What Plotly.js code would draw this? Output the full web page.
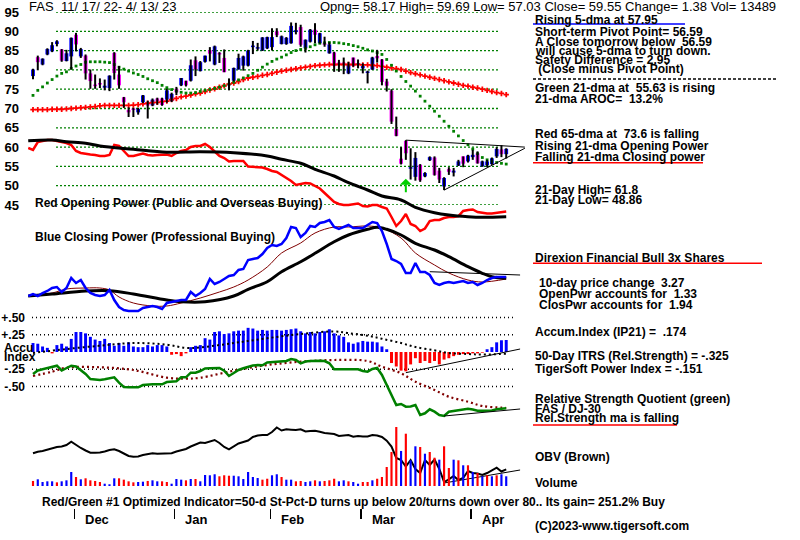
<!DOCTYPE html>
<html><head><meta charset="utf-8">
<script src="https://cdn.plot.ly/plotly-3.0.1.min.js"></script>
<style>html,body{margin:0;padding:0;background:#fff;}#chart{width:800px;height:540px;}</style>
</head><body><div id="chart"></div>
<script>
// ---------------- DATA ----------------
const ticker = 'FAS';
const dateRange = '11/ 17/ 22- 4/ 13/ 23';
const openP = [78.4,83.3,81.4,84.0,84.8,86.7,85.3,82.3,83.5,89.1,
 83.5,83.7,79.1,76.2,76.6,75.4,75.3,84.4,78.8,72.9,
 69.6,70.0,69.0,71.6,71.6,70.8,72.6,72.6,72.3,71.9,
 75.1,76.0,77.2,77.2,82.5,79.7,82.1,85.1,81.4,84.4,
 83.1,76.0,77.2,80.1,81.1,81.1,85.9,85.5,85.0,85.6,
 85.9,90.0,86.7,86.7,86.9,89.8,91.1,85.6,87.3,90.4,
 86.9,86.9,84.3,84.5,81.9,81.9,79.1,83.2,81.3,80.4,
 79.2,80.1,83.6,82.7,77.0,74.6,64.7,57.0,61.6,54.4,
 52.3,55.4,52.4,56.6,57.3,53.9,49.8,54.3,53.4,55.2,
 57.6,56.3,57.4,58.4,55.0,55.3,55.6,57.6,59.4,58.17];
const highP = [80.3,83.7,83.0,85.6,87.2,87.7,85.4,85.2,88.4,89.6,
 85.7,84.0,80.1,78.8,77.8,77.5,78.6,84.6,81.0,73.0,
 70.3,70.2,70.2,73.5,72.0,72.6,72.8,72.8,75.1,74.1,
 75.6,77.9,77.2,82.7,83.5,82.3,83.7,85.9,86.3,84.6,
 85.3,77.8,80.6,84.2,83.7,85.2,87.5,87.0,88.5,88.6,
 90.8,90.8,88.9,88.5,92.3,92.2,91.7,87.9,90.6,92.1,
 89.6,88.6,87.2,84.7,82.6,83.2,82.1,83.2,82.7,81.7,
 79.8,83.4,85.2,82.8,77.7,75.0,67.9,60.0,61.8,59.7,
 58.7,55.6,53.5,57.6,57.6,54.6,52.2,54.8,54.6,56.7,
 57.6,58.0,59.3,58.9,56.5,56.7,57.3,60.0,60.5,59.69];
const lowP = [77.6,79.9,81.2,83.8,84.6,86.1,82.1,82.2,80.1,84.8,
 83.1,77.5,75.1,75.1,75.3,74.7,74.5,77.5,75.1,70.2,
 67.8,67.8,68.4,71.4,67.4,70.6,71.0,70.7,71.5,71.7,
 73.5,75.8,75.7,77.0,78.4,79.6,81.9,82.2,81.2,81.8,
 79.4,74.7,77.0,80.1,79.8,80.9,84.1,85.0,84.9,85.4,
 85.0,88.5,86.6,86.5,86.8,89.2,86.0,84.5,87.1,86.9,
 86.8,86.0,84.2,79.5,79.5,78.9,78.9,80.8,80.4,79.1,
 76.5,80.0,81.9,76.0,74.4,66.0,62.8,55.5,56.7,51.6,
 51.3,51.0,52.2,56.4,52.6,50.7,48.86,52.8,52.4,55.1,
 54.8,56.0,56.7,55.7,54.9,54.8,55.4,57.2,57.4,57.03];
const closeP = [80.1,82.0,82.9,85.4,86.4,87.4,82.4,84.3,88.3,86.6,
 85.4,79.1,77.1,75.8,76.2,75.9,78.5,79.2,76.0,71.6,
 69.0,69.6,69.9,73.4,70.8,72.3,71.9,70.9,74.7,73.8,
 74.2,77.9,76.0,81.2,80.1,82.0,83.7,84.2,86.1,84.0,
 79.4,76.4,80.5,83.1,83.5,85.0,86.3,85.8,88.4,88.5,
 88.5,89.0,88.7,88.3,91.4,90.3,86.5,87.8,90.4,89.1,
 89.5,86.5,86.6,81.0,81.3,81.3,81.3,81.0,81.6,81.0,
 79.6,83.2,83.0,76.9,75.9,66.6,62.9,55.7,58.4,54.8,
 57.2,51.4,53.3,57.4,52.8,51.6,52.0,53.6,53.9,56.3,
 55.7,57.8,58.0,55.8,56.3,56.3,57.1,59.5,58.17,59.55];
// 21-dma (green) and 65-dma (red)
const ma21 = [73.4,74.7,75.6,76.6,77.5,78.4,79.1,79.5,80.4,81.0,
 81.4,82.0,82.1,82.1,82.1,82.0,81.9,81.4,80.7,80.2,
 79.7,79.2,78.8,78.3,77.7,77.2,76.7,76.0,75.4,74.9,
 74.5,74.2,74.0,74.0,74.1,74.4,74.7,74.9,75.2,75.5,
 75.9,76.3,76.8,77.4,77.9,78.5,79.1,79.9,80.7,81.5,
 82.2,82.8,83.3,83.9,84.5,85.0,85.3,85.6,86.0,86.5,
 86.9,87.0,87.1,87.1,87.0,86.8,86.6,86.3,86.0,85.6,
 85.2,84.9,84.5,84.0,82.7,81.2,79.7,78.3,77.0,75.8,
 74.5,73.2,71.9,70.6,69.3,68.0,66.7,65.4,64.1,62.9,
 61.7,60.6,59.5,58.3,57.3,56.7,56.3,56.0,55.8,55.6];
const ma65 = [69.7,69.7,69.7,69.7,69.8,69.8,69.8,69.9,70.0,70.1,
 70.2,70.3,70.4,70.5,70.7,70.8,70.8,70.8,70.8,70.8,
 70.8,70.9,71.0,71.2,71.4,71.5,71.6,71.8,71.9,72.3,
 72.6,73.0,73.2,73.5,73.8,74.0,74.4,74.8,75.1,75.5,
 75.9,76.3,76.6,77.0,77.5,77.9,78.1,78.3,78.6,78.8,
 79.1,79.4,79.7,79.9,80.1,80.3,80.5,80.7,80.9,81.1,
 81.2,81.3,81.4,81.4,81.4,81.4,81.4,81.4,81.4,81.3,
 81.3,81.2,81.1,80.9,80.7,80.5,80.3,80.1,79.7,79.3,
 79.0,78.7,78.4,78.1,77.8,77.5,77.2,76.9,76.6,76.3,
 76.0,75.8,75.5,75.3,75.0,74.7,74.4,74.1,73.9,73.6];
// Opening Power (red) from day -1, and its moving average (black)
const openPower = [87,85,93,94,95,95,94,93,92,90,
 84,82,81,80.5,80,79,79,80,90,89,
 84,79,79,80,81.5,80,79.5,80,80.5,80.5,
 79,82,84,85,88,89,89,91,88,83,
 79,77,73.5,74,74,74,68.5,68,68,67.5,
 66,64,63,60,57,54,50,51,52,51.5,
 49,46.5,42,37,33,31,30,30,31,31.5,
 29,28.5,30,30,28,26.5,18,9,14,21,
 11,9,4,6.5,14,15,15,17,18,18,
 19,24,25,25.5,23,22,21.5,21.5,22,23,23.5];
const opMA_days = [-1,4,7,11,14,21,28,35,42,49,52,56,59,63,66,70,73,77,80,84,87,91,94,99];
const opMA = [94.3,95,93.3,91.7,89,85.7,82.7,83.3,82.3,79,75.7,71.7,65.7,59,52.3,45,39,35,27.7,22.3,20,18.3,17.7,18.3];
// Closing Power (blue) from day -1, its fast MA (brown) and slow MA (black)
const closePower = [14,16,14,17,19,22,23,18,22,32,
 27,30,22,17,15,14,15,20,10,3,
 0,-1,-1,-1,2,3,4,3,1,7,
 8,9,10,10,18,14,17,21,31,26,
 28,31,34,35,40,41,50,51,52,56,
 62,65,64,66,72,83,82,73,77,84,
 83,87,88,90,83,81,83,85,82,82,
 82,85,88,87,79,66,51,49,46,37,
 37,47,38,38,35,27,25,27,28,27,
 28,29,27,28,25,27,30,32,33,33,33];
const cpFast_days = [-1,4,7,11,14,16,18,21,25,28,31,35,39,42,45,49,52,56,59,63,66,70,73,77,80,84,87,91,94,99];
const cpFast = [14,17,21,22,22,20,13,7,4,4,7,12,18,23,30,43,57,67,77,83,83,84,82,72,57,45,37,30,28,31];
const cpSlow_days = [-1,4,11,16,21,28,31,36,42,45,49,52,56,59,63,66,70,72,74,77,80,84,87,91,94,96,99];
const cpSlow = [14,16,19,19.3,16,10,8.3,8.3,14,20.7,28.3,38.3,48.3,56.7,68.3,75,80.7,82.7,80.7,75,66.7,60,53.3,43.3,36.7,33.3,31.7];
// Accumulation Index (IP21)
const accum = [0.13,0.12,0.08,0.06,-0.02,0.10,0.12,0.08,0.19,0.29,
 0.29,0.27,0.22,0.18,0.16,0.19,0.13,0.09,0.13,0.09,
 0.14,0.08,0.07,0.07,0.10,0.08,0.10,0.10,0.08,-0.04,
 -0.03,-0.06,-0.02,0.07,0.09,0.10,0.20,0.18,0.29,0.30,
 0.26,0.27,0.30,0.31,0.31,0.35,0.34,0.31,0.32,0.31,
 0.32,0.32,0.31,0.32,0.33,0.34,0.30,0.27,0.29,0.27,
 0.29,0.30,0.33,0.27,0.24,0.22,0.14,0.12,0.14,0.16,
 0.15,0.15,0.14,0.08,0.04,-0.16,-0.21,-0.27,-0.28,-0.18,
 -0.09,-0.16,-0.13,-0.16,-0.13,-0.18,-0.11,-0.09,-0.06,-0.04,
 -0.03,-0.03,-0.02,-0.02,-0.01,0.04,0.07,0.14,0.17,0.174];
const accumMA_days = [0,7,14,21,28,32,35,42,49,56,63,66,70,73,77,80,84,87,91,94,99];
const accumMA = [-0.014,0.043,0.091,0.13,0.106,0.058,0.067,0.13,0.2,0.26,0.298,0.274,0.236,0.192,0.13,0.072,0.024,-0.014,-0.029,-0.038,-0.024];
// Relative strength quotient FAS / DJ-30 (green) and its MA
const rsq = [51,54.5,55.7,57,58.5,59.3,54.5,57,59.3,58.5,
 55,51,46,45.5,45,45.7,46.5,47.7,42.3,38,
 37.7,37.7,37.7,40,40.5,40.7,40.7,40.7,43,43.5,
 43.7,47.7,47.7,52.3,52.3,54,56.5,56.7,57,57,
 54.3,49,52,55,56.7,58.3,59.5,60,59.7,62.5,
 63,63.3,63.5,64,66,65,61.7,63.5,64,64.3,
 64.2,64,61.7,55.7,55.7,55.7,55.7,55.7,55.7,54,
 53.3,56,57,50,40,31,20,21,18.3,18.5,
 20,10,11.7,15.7,13.3,10,9,13.3,14,15,
 15.5,16.3,15.5,14.3,14.3,14.3,14.5,15.7,16.2,16.7];
const rsqMA_days = [0,4,7,14,21,28,32,35,42,49,56,63,70,73,77,80,84,87,91,94,98,99];
const rsqMA = [49,53.3,57.3,57.7,55,47.3,46.3,47.3,54.3,60,63.3,65,64,58.3,51.7,43.3,35,28.3,23.3,19,17.3,17];
// On-balance volume
const obv = [36.7,38.3,39,40.5,42,43,43.5,45,48.3,45,
 42,39.5,37.3,37.3,37.5,38.5,40,40.7,39,36.5,
 34,33.3,33.5,35,36,36.7,36.3,36.5,36.7,36.7,
 38.5,39.5,41,43.5,45.5,47.5,47,48.5,50,47,
 43,40.7,44,46.5,48,49.5,53,54.5,55,55,
 58,62.5,59.5,60.7,60.3,60,60.7,58.5,59,59.3,
 58.3,57,56.5,56,54,54.5,55,53.3,54,53.5,
 53.5,55,54.5,53,49.3,43.5,32,30,23.5,30,
 21,17,30,25,30.5,21,8,10.7,14,10,
 12,19,17,16.5,15,17,19.5,22.3,18.5,20.7];
// Volume (thousands) and up/down flag (1 = blue, 0 = red)
const volume = [7.0,9.3,5.6,6.5,6.5,5.1,6.5,7.9,19.5,12.5,
 9.3,10.7,7.9,7.0,5.6,3.2,2.4,10.7,10.7,8.8,
 6.5,5.1,5.6,6.0,7.0,7.9,6.5,6.5,5.6,3.2,
 9.7,8.8,7.9,9.7,9.7,6.5,15.3,14.9,16.3,13.5,
 14.9,14.3,14.3,13.5,9.7,19.5,12.5,11.1,8.8,10.1,
 14.9,16.3,12.5,8.8,8.8,6.5,7.0,5.6,6.5,7.9,
 6.5,7.0,7.9,10.1,6.5,7.9,6.5,5.6,3.2,5.6,
 5.6,7.9,10.1,12.5,26.4,47.3,82.0,48.7,72.7,35.7,
 55.2,54.2,44.9,47.3,39.3,36.6,55.2,25.0,36.6,35.7,
 28.8,28.8,19.5,18.1,13.5,14.9,13.5,14.9,16.3,13.489];
const volUp = [0,1,1,1,1,0,1,1,1,0, 1,0,0,0,0,1,1,1,0,0, 0,0,1,1,0,1,1,0,0,1,
 1,1,0,1,0,1,1,1,1,0, 0,0,1,1,1,1,1,1,0,0, 1,1,0,1,1,0,0,1,1,0,
 1,0,0,0,1,1,0,1,1,0, 0,1,0,0,0,0,0,1,0,1, 1,0,1,0,0,1,0,0,1,0,
 1,0,1,0,1,0,1,0,1,1];
// Trend lines drawn by the program (day, value)
const priceTopLine = {d:[78,102.9], v:[61.8,60.0]};
const priceLowLine = {d:[86,102.9], v:[48.86,59.7]};
const cpLine = {d:[83,101.9], v:[38.3,35]};
const accumLine = {d:[78,101.9], v:[-0.30,0.043]};
const rsLine = {d:[86,101.9], v:[9,16]};
const obvLine = {d:[86,101.9], v:[7,20]};
const buySignalDays = [78];
// Axis ticks / labels
const monthStarts = [9,30,50,69,92];
const monthLabels = ['Dec','Jan','Feb','Mar','Apr'];
const priceTicks = [45,50,55,60,65,70,75,80,85,90,95];
const accumTicks = [0.5,0.25,-0.25,-0.5];
const accumTickText = ['+.50','+.25','-.25','-.50'];

// ---------------- LAYOUT HELPERS ----------------
const W=800, H=540, L=28, R=275, T=0, B=32;
const PW=W-L-R, PH=H-T-B;
const px = x => (x-L)/PW;
const py = y => (T+PH-y)/PH;
const DAYPX=4.78, DAY0=33;
const xr = [(L-DAY0)/DAYPX, (L+PW-DAY0)/DAYPX];
const FONT = 'Liberation Sans, Arial, sans-serif';

const days = closeP.map((_,i)=>i);
const indDays = openPower.map((_,i)=>i-1);

const traces = [];
// Price panel
traces.push({type:'scatter',mode:'markers',x:days,y:ma65,xaxis:'x',yaxis:'y',
  marker:{symbol:'cross',size:4.5,color:'#ff0000',line:{width:0}}});
traces.push({type:'scatter',mode:'markers',x:days,y:ma21,xaxis:'x',yaxis:'y',
  marker:{symbol:'square',size:2.8,color:'#008000',line:{width:0}}});
const wx=[], wy=[];
days.forEach(i=>{wx.push(i,i,null); wy.push(lowP[i],highP[i],null);});
traces.push({type:'scatter',mode:'lines',x:wx,y:wy,xaxis:'x',yaxis:'y',line:{color:'#000',width:2}});
traces.push({type:'bar',x:days,xaxis:'x',yaxis:'y',
  base:days.map(i=>Math.min(openP[i],closeP[i])),
  y:days.map(i=>Math.max(Math.abs(closeP[i]-openP[i]),0.4)),
  width:0.8,marker:{color:days.map(i=>closeP[i]>=openP[i]?'#0000ff':'#ff00ff'),line:{width:0}}});
[priceTopLine,priceLowLine].forEach(t=>traces.push({type:'scatter',mode:'lines',x:t.d,y:t.v,xaxis:'x',yaxis:'y',line:{color:'#000',width:1}}));

// Opening power
traces.push({type:'scatter',mode:'lines',x:indDays,y:openPower,xaxis:'x',yaxis:'y2',line:{color:'#ff0000',width:2.5}});
traces.push({type:'scatter',mode:'lines',x:opMA_days,y:opMA,xaxis:'x',yaxis:'y2',line:{color:'#000',width:3,shape:'spline'}});

// Closing power
traces.push({type:'scatter',mode:'lines',x:cpFast_days,y:cpFast,xaxis:'x',yaxis:'y3',line:{color:'#800000',width:1,shape:'spline'}});
traces.push({type:'scatter',mode:'lines',x:cpSlow_days,y:cpSlow,xaxis:'x',yaxis:'y3',line:{color:'#000',width:3,shape:'spline'}});
traces.push({type:'scatter',mode:'lines',x:indDays,y:closePower,xaxis:'x',yaxis:'y3',line:{color:'#0000ff',width:2.5}});
traces.push({type:'scatter',mode:'lines',x:cpLine.d,y:cpLine.v,xaxis:'x',yaxis:'y3',line:{color:'#000',width:1}});

// Accumulation index
traces.push({type:'bar',x:days,y:accum,xaxis:'x',yaxis:'y4',width:0.62,
  marker:{color:accum.map(v=>v>=0?'#0000ff':'#ff0000'),line:{width:0}}});
traces.push({type:'scatter',mode:'lines',x:accumMA_days,y:accumMA,xaxis:'x',yaxis:'y4',line:{color:'#000',width:2,dash:'2px,3px',shape:'spline'}});
traces.push({type:'scatter',mode:'lines',x:accumLine.d,y:accumLine.v,xaxis:'x',yaxis:'y4',line:{color:'#000',width:1}});

// Relative strength
traces.push({type:'scatter',mode:'lines',x:rsqMA_days,y:rsqMA,xaxis:'x',yaxis:'y5',line:{color:'#800000',width:2.2,dash:'2px,3px',shape:'spline'}});
traces.push({type:'scatter',mode:'lines',x:days,y:rsq,xaxis:'x',yaxis:'y5',line:{color:'#008000',width:2.5}});
traces.push({type:'scatter',mode:'lines',x:rsLine.d,y:rsLine.v,xaxis:'x',yaxis:'y5',line:{color:'#000',width:1}});

// Volume and OBV
traces.push({type:'bar',x:days,y:volume,xaxis:'x',yaxis:'y7',width:0.45,
  marker:{color:volUp.map(u=>u?'#0000ff':'#ff0000'),line:{width:0}}});
traces.push({type:'scatter',mode:'lines',x:days,y:obv,xaxis:'x',yaxis:'y6',line:{color:'#000',width:2}});
traces.push({type:'scatter',mode:'lines',x:obvLine.d,y:obvLine.v,xaxis:'x',yaxis:'y6',line:{color:'#000',width:1}});

// ---------------- SHAPES ----------------
const shapes = [];
priceTicks.forEach(v=>shapes.push({type:'line',xref:'paper',yref:'y',x0:px(56),x1:px(498),y0:v,y1:v,layer:'below',
  line:{color:'#008000',width:1.3,dash:'2px,2px'}}));
accumTicks.forEach(v=>shapes.push({type:'line',xref:'paper',yref:'y4',x0:px(32),x1:px(513),y0:v,y1:v,layer:'below',
  line:{color:'#000',width:1.3,dash:'1px,3px'}}));
const hline=(x0,x1,y,color,w,dash)=>shapes.push({type:'line',xref:'paper',yref:'paper',x0:px(x0),x1:px(x1),y0:py(y),y1:py(y),
  line:{color:color,width:w||1.5,dash:dash||'solid'}});
hline(533,685,24,'#0000ff');
hline(533,777,79,'#000',1.5,'3px,2px');
hline(533,703,162.7,'#ff0000');
hline(533,762,263.3,'#ff0000');
hline(533,677,425,'#ff0000');

// ---------------- ANNOTATIONS ----------------
const ann = [];
const txt=(t,x,y,opt)=>{opt=opt||{};ann.push({text:opt.bold===false?t:'<b>'+t+'</b>',xref:'paper',yref:'paper',x:px(x),y:py(y),
  xanchor:'left',yanchor:'middle',showarrow:false,font:{family:FONT,size:opt.size||12,color:'#000'}});};
const last=closeP.length-1;
txt(ticker,27,7,{bold:false,size:13});
txt(dateRange,59,7,{bold:false,size:13});
txt('Opng= '+openP[last].toFixed(2)+' High= '+highP[last].toFixed(2)+' Low= '+lowP[last].toFixed(2)+
    ' Close= '+closeP[last].toFixed(2)+' Change= '+(closeP[last]-closeP[last-1]).toFixed(2)+
    ' Vol= '+Math.round(volume[last]*1000),318,7,{bold:false,size:13});
txt('Rising 5-dma at 57.95',533,20);
txt('Short-term Pivot Point= 56.59',533,32);
txt('A Close tomorrow below  56.59',533,42);
txt('will cause 5-dma to turn down.',533,51);
txt('Safety Difference = 2.95',533,60);
txt(' (Close minus Pivot Point)',533,69.5);
txt('Green 21-dma at  55.63 is rising',533,88);
txt('21-dma AROC=  13.2%',533,99);
txt('Red 65-dma at  73.6 is falling',533,134);
txt('Rising 21-dma Opening Power',533,145.5);
txt('Falling 21-dma Closing power',533,156.5);
txt('21-Day High= 61.8',533,190);
txt('21-Day Low= 48.86',533,200);
txt('Direxion Financial Bull 3x Shares',533,258);
txt('10-day price change  3.27',537,283);
txt('OpenPwr accounts for  1.33',537,294);
txt('ClosPwr accounts for  1.94',537,305);
txt('Accum.Index (IP21) =  .174',533,332);
txt('50-Day ITRS (Rel.Strength) = -.325',533,356);
txt('TigerSoft Power Index = -.151',533,368.5);
txt('Relative Strength Quotient (green)',533,399);
txt('FAS / DJ-30',533,408.5);
txt('Rel.Strength ma is falling',533,418);
txt('OBV (Brown)',533,457);
txt('Volume',533,483);
txt('Red/Green #1 Optimized Indicator=50-d St-Pct-D turns up below 20/turns down over 80.. Its gain= 251.2% Buy',40,502);
txt('(C)2023-www.tigersoft.com',533,526);
txt('Red Opening Power (Public and Overseas Buying)',33,203);
txt('Blue Closing Power (Professional Buying)',33,237);
txt('Accu',2,348);
txt('Index',2,357);
monthStarts.forEach((d,k)=>ann.push({text:'<b>'+monthLabels[k]+'</b>',xref:'x',yref:'paper',x:d,y:py(519),xanchor:'left',yanchor:'middle',
  xshift:7,showarrow:false,font:{family:FONT,size:13,color:'#000'}}));
buySignalDays.forEach(d=>ann.push({xref:'x',yref:'y',x:d,y:51.8,text:'',showarrow:true,ax:0,ay:15,
  arrowcolor:'#00d000',arrowwidth:2,arrowhead:1,arrowsize:1}));

// ---------------- AXES ----------------
const hid = (b,t,r)=>({domain:[py(b),py(t)],range:r,visible:false,anchor:'x',fixedrange:true});
const layout = {
  width:W,height:H,margin:{l:L,r:R,t:T,b:B,pad:0},
  paper_bgcolor:'#fff',plot_bgcolor:'rgba(0,0,0,0)',showlegend:false,barmode:'overlay',hovermode:false,
  font:{family:FONT,color:'#000'},
  xaxis:{range:xr,anchor:'free',position:0,tickvals:monthStarts.map(d=>d-0.35),ticks:'outside',ticklen:10,tickwidth:1.5,
    tickcolor:'#000',showticklabels:false,showgrid:false,zeroline:false,showline:false,fixedrange:true},
  yaxis:{domain:[py(205),py(12)],range:[45,95],anchor:'x',tickvals:priceTicks,ticktext:priceTicks.map(String),
    tickfont:{family:FONT,size:13,weight:'bold',color:'#000'},ticks:'',ticklabelstandoff:8,showgrid:false,zeroline:false,showline:false,fixedrange:true},
  yaxis2:hid(235,135,[0,100]),
  yaxis3:hid(313,215,[-3,95]),
  yaxis4:{domain:[py(395),py(310)],range:[-(395-352)/69,(352-310)/69],anchor:'x',tickvals:accumTicks,ticktext:accumTickText,
    tickfont:{family:FONT,size:12,weight:'bold',color:'#000'},ticks:'',ticklabelstandoff:2,showgrid:false,zeroline:false,showline:false,fixedrange:true},
  yaxis5:hid(425,355,[0,70]),
  yaxis6:hid(490,420,[0,70]),
  yaxis7:hid(486,426,[0,83.4]),
  shapes:shapes,annotations:ann
};
Plotly.newPlot('chart',traces,layout,{staticPlot:true,displayModeBar:false});
</script></body></html>
